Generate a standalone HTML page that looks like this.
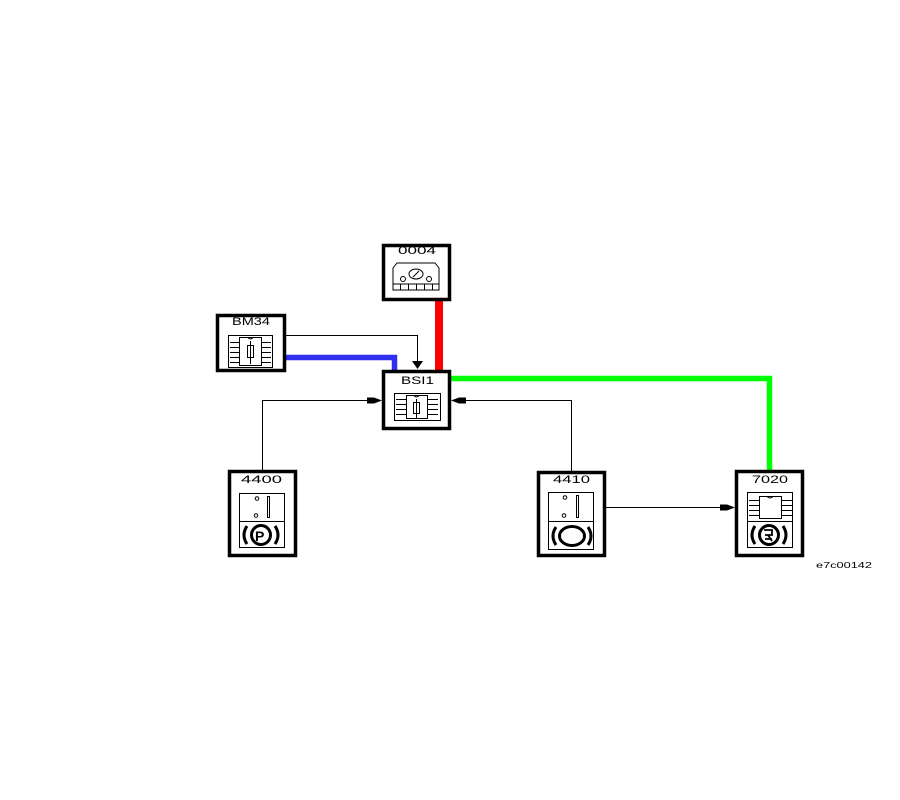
<!DOCTYPE html>
<html><head><meta charset="utf-8"><style>
html,body{margin:0;padding:0;background:#fff;}
svg{display:block;}
text{font-family:"Liberation Sans",sans-serif;fill:#000;}
</style></head><body>
<svg width="900" height="800" viewBox="0 0 900 800" xmlns="http://www.w3.org/2000/svg">
<rect width="900" height="800" fill="#fff"/>

<!-- connectors -->
<rect x="435" y="300" width="8" height="71" fill="#ff0000"/>
<path d="M286 357.5 H394.5 V371" fill="none" stroke="#3030f0" stroke-width="5.5"/>
<path d="M451 378.5 H769.5 V471" fill="none" stroke="#00ff00" stroke-width="5.5"/>

<path d="M286 335.5 H417.5 V362" fill="none" stroke="#000" stroke-width="1"/>
<polygon points="412,361 423,361 417.5,369" fill="#000"/>

<path d="M262.5 471 V400.5 H372" fill="none" stroke="#000" stroke-width="1"/>
<polygon points="367,397.5 374,397.5 382,400.5 374,403.5 367,403.5" fill="#000"/>

<path d="M571.5 471 V400.5 H462" fill="none" stroke="#000" stroke-width="1"/>
<polygon points="466,397.5 459,397.5 451,400.5 459,403.5 466,403.5" fill="#000"/>

<path d="M606 507.5 H725" fill="none" stroke="#000" stroke-width="1"/>
<polygon points="720,504.5 727,504.5 735,507.5 727,510.5 720,510.5" fill="#000"/>

<!-- boxes -->
<g fill="#fff" stroke="#000" stroke-width="3.5">
<rect x="383.5" y="245.5" width="66" height="54"/>
<rect x="217.5" y="315.5" width="67" height="55"/>
<rect x="383.5" y="371.5" width="66" height="57"/>
<rect x="229.5" y="471.5" width="66" height="84"/>
<rect x="538.5" y="472.5" width="66" height="83"/>
<rect x="736.5" y="471.5" width="66" height="84"/>
</g>

<!-- labels -->
<text x="398" y="254" font-size="11" textLength="38" lengthAdjust="spacingAndGlyphs">0004</text>
<text x="232" y="325" font-size="11" textLength="38" lengthAdjust="spacingAndGlyphs">BM34</text>
<text x="401" y="384" font-size="11" textLength="33" lengthAdjust="spacingAndGlyphs">BSI1</text>
<text x="241" y="483" font-size="11" textLength="41" lengthAdjust="spacingAndGlyphs">4400</text>
<text x="553" y="483" font-size="11" textLength="37" lengthAdjust="spacingAndGlyphs">4410</text>
<text x="752" y="483" font-size="11" textLength="36" lengthAdjust="spacingAndGlyphs">7020</text>
<text x="816" y="568" font-size="8" textLength="56" lengthAdjust="spacingAndGlyphs">e7c00142</text>

<!-- 0004 instrument cluster -->
<g fill="none" stroke="#000" stroke-width="1">
<path d="M393 290 V268 L397 263 H435 L439 268 V290 Z"/>
<line x1="393" y1="284" x2="439" y2="284"/>
<line x1="400.5" y1="284" x2="400.5" y2="290"/>
<line x1="408.5" y1="284" x2="408.5" y2="290"/>
<line x1="416.5" y1="284" x2="416.5" y2="290"/>
<line x1="424.5" y1="284" x2="424.5" y2="290"/>
<line x1="432.5" y1="284" x2="432.5" y2="290"/>
<ellipse cx="416" cy="274" rx="7" ry="5"/>
<line x1="413" y1="277" x2="419" y2="271"/>
<circle cx="403" cy="279" r="2.5"/>
<circle cx="429" cy="279" r="2.5"/>
</g>

<!-- chip icon BM34 -->
<g fill="none" stroke="#000" stroke-width="1">
<rect x="228.5" y="335.5" width="44" height="32"/>
<rect x="239.5" y="337.5" width="22" height="28"/>
<path d="M248 337.5 q2.5 3 5 0"/>
<rect x="247.5" y="345.5" width="6" height="12"/>
<line x1="250.5" y1="341" x2="250.5" y2="364"/>
<path d="M230 342.5 h9 M230 347.5 h9 M230 352.5 h9 M230 357.5 h9 M230 362.5 h9"/>
<path d="M262 342.5 h9 M262 347.5 h9 M262 352.5 h9 M262 357.5 h9 M262 362.5 h9"/>
</g>

<!-- chip icon BSI1 -->
<g fill="none" stroke="#000" stroke-width="1">
<rect x="394.5" y="393.5" width="46" height="27"/>
<rect x="406.5" y="395.5" width="21" height="23"/>
<path d="M414 395.5 q2.5 3 5 0"/>
<rect x="413.5" y="402.5" width="6" height="11"/>
<line x1="416.5" y1="399" x2="416.5" y2="418"/>
<path d="M396 399.5 h10 M396 404.5 h10 M396 409.5 h10 M396 414.5 h10"/>
<path d="M428 399.5 h10 M428 404.5 h10 M428 409.5 h10 M428 414.5 h10"/>
</g>

<!-- 4400 icon -->
<g fill="none" stroke="#000" stroke-width="1">
<rect x="239.5" y="493.5" width="45" height="54"/>
<line x1="239.5" y1="521.5" x2="284.5" y2="521.5"/>
<circle cx="257" cy="498.5" r="1.8"/>
<circle cx="256" cy="515.5" r="1.8"/>
<rect x="267.5" y="496.5" width="2" height="21"/>
</g>
<g fill="none" stroke="#000" stroke-width="3">
<circle cx="261" cy="535" r="9.5"/>
<path d="M247 526 q-6 9 0 18"/>
<path d="M275 526 q6 9 0 18"/>
</g>
<text x="255" y="541" font-size="14" font-weight="bold">P</text>

<!-- 4410 icon -->
<g fill="none" stroke="#000" stroke-width="1">
<rect x="548.5" y="492.5" width="45" height="57"/>
<line x1="548.5" y1="521.5" x2="593.5" y2="521.5"/>
<circle cx="565" cy="497.5" r="1.8"/>
<circle cx="564" cy="515.5" r="1.8"/>
<rect x="576.5" y="495.5" width="2" height="22"/>
</g>
<g fill="none" stroke="#000" stroke-width="3">
<ellipse cx="572" cy="536" rx="12.5" ry="9.5"/>
<path d="M556 527 q-6 9 0 18"/>
<path d="M588 527 q6 9 0 18"/>
</g>

<!-- 7020 icon -->
<g fill="none" stroke="#000" stroke-width="1">
<rect x="747.5" y="492.5" width="45" height="55"/>
<line x1="747.5" y1="521.5" x2="792.5" y2="521.5"/>
<rect x="759.5" y="496.5" width="22" height="22"/>
<path d="M767 496.5 q3 3 6 0"/>
<path d="M749 500.5 h10 M749 505.5 h10 M749 510.5 h10 M749 515.5 h10"/>
<path d="M782 500.5 h10 M782 505.5 h10 M782 510.5 h10 M782 515.5 h10"/>
</g>
<g fill="none" stroke="#000" stroke-width="3">
<circle cx="769" cy="535" r="9.5"/>
<path d="M755 526 q-6 9 0 18"/>
<path d="M783 526 q6 9 0 18"/>
</g>
<g fill="none" stroke="#000" stroke-width="1.8">
<path d="M764 530 h8 v5 h-7 M768 535 l4 6 M765 539 h7"/>
</g>
</svg>
</body></html>
